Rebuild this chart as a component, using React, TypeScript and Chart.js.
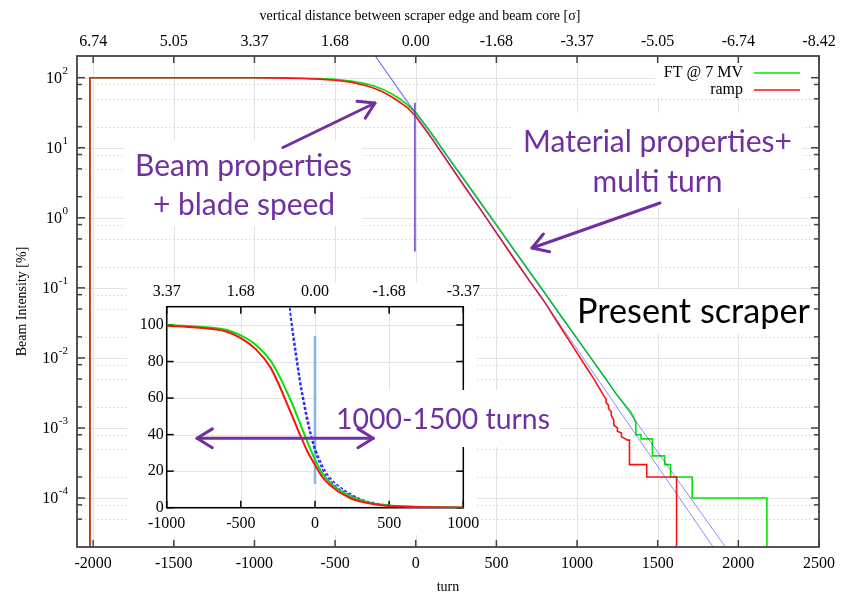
import React, { useEffect, useRef } from "react";
import { Chart, registerables } from "chart.js";

Chart.register(...registerables);

const SERIF = '"Liberation Serif", "Times New Roman", serif';
const SANS = 'Lato, "Open Sans", "Noto Sans", sans-serif';
const PURPLE = "#7030a0";
const GREEN = "#00e600";
const RED = "#ff1010";

// ---------------- main plot: axes ----------------
const mainTurnTicks = [-2000, -1500, -1000, -500, 0, 500, 1000, 1500, 2000, 2500];
const mainTurnLabels = ["-2000", "-1500", "-1000", "-500", "0", "500", "1000", "1500", "2000", "2500"];
const mainSigmaLabels = ["6.74", "5.05", "3.37", "1.68", "0.00", "-1.68", "-3.37", "-5.05", "-6.74", "-8.42"];
const decadeExponents = [2, 1, 0, -1, -2, -3, -4];
const minorExponents = [1, 0, -1, -2, -3, -4, -5];
const minorFactors = [2, 5, 8];

// ---------------- main plot: FT @ 7 MV (green) ----------------
const ftTurns = [
  -2020, -2020, -1500, -1000, -800, -700, -600, -500, -400, -300, -250, -200, -150, -100, -50, 0, 50, 100, 200,
  300, 400, 500, 600, 700, 800, 900, 1000, 1100, 1169, 1250, 1333, 1345, 1358, 1365, 1365, 1397, 1397, 1467,
  1467, 1543, 1543, 1580, 1580, 1714, 1714, 2177, 2177,
];
const ftIntensity = [
  1e-7, 100, 100, 100, 99.2, 98.4, 97, 94.5, 89.5, 81, 75, 67.5, 59, 50, 41, 32, 22.5, 15.8, 7.4,
  3.55, 1.68, 0.8, 0.375, 0.178, 0.085, 0.04, 0.019, 0.009, 0.0054, 0.0029, 0.0017, 0.0015, 0.0013, 0.0012, 0.0008,
  0.0008, 0.0007, 0.0007, 0.0004, 0.0004, 0.0003, 0.0003, 0.0002, 0.0002, 0.0001, 0.0001, 1e-7,
];

// ---------------- main plot: ramp (red) ----------------
const rampTurns = [
  -2020, -2020, -1500, -1000, -800, -700, -600, -500, -400, -300, -250, -200, -150, -100, -50, 0, 50, 100, 200,
  300, 400, 500, 600, 700, 757, 800, 900, 1000, 1050, 1100, 1169, 1180, 1180, 1195, 1195, 1212, 1212, 1228,
  1228, 1250, 1250, 1275, 1275, 1300, 1313, 1325, 1325, 1432, 1432, 1617, 1617,
];
const rampIntensity = [
  1e-7, 100, 100, 99.7, 98.7, 97.5, 95.5, 92, 86.5, 76, 69.5, 62, 53.5, 45, 37, 28, 19.5, 13.5, 6.2,
  2.85, 1.33, 0.61, 0.28, 0.13, 0.086, 0.062, 0.027, 0.0118, 0.0078, 0.0052, 0.0028, 0.0026, 0.0023, 0.0021,
  0.0019, 0.0017, 0.0015, 0.0013, 0.0011, 0.001, 0.0009, 0.00085, 0.00075, 0.0007, 0.00067, 0.00067, 0.0003,
  0.0003, 0.0002, 0.0002, 1e-7,
];

// ---------------- main plot: exponential fits (blue) and marker ----------------
const fitFtTurns = [-251, 1920];
const fitFtIntensity = [204, 2e-5];
const fitRampTurns = [-251, 1844];
const fitRampIntensity = [204, 2e-5];
const markerTurns = [-5, -5];
const markerIntensity = [44, 0.33];

// ---------------- inset ----------------
const insetTurnTicks = [-1000, -500, 0, 500, 1000];
const insetTurnLabels = ["-1000", "-500", "0", "500", "1000"];
const insetSigmaLabels = ["3.37", "1.68", "0.00", "-1.68", "-3.37"];
const insetIntensityTicks = [0, 20, 40, 60, 80, 100];
const insetTurns = [
  -1000, -800, -600, -500, -400, -300, -250, -200, -150, -100, -50, 0, 50, 100, 150, 200, 250, 300, 400, 500,
  600, 700, 800, 1000,
];
const insetFt = [
  99.9, 99.2, 97.4, 94.3, 89.2, 80.5, 73.5, 65.3, 56.2, 46, 35.8, 26.3, 18.7, 14, 10.5, 8, 5.7, 4.3, 2.2, 1.15,
  0.7, 0.38, 0.22, 0.05,
];
const insetRamp = [
  99.6, 98.6, 96.4, 92.8, 86.8, 76.8, 68.5, 59.2, 49.4, 39.7, 30.6, 23.5, 16.8, 12.5, 9.3, 6.9, 4.75, 3.5, 1.9,
  0.95, 0.6, 0.33, 0.2, 0.05,
];
const insetFitTurns = [-175, -150, -125, -100, -75, -50, -25, 0, 50, 100, 150, 200, 300, 400, 500, 600, 800, 1000];
const insetFitFt = [112, 98, 84, 70, 59, 49, 40, 33, 23, 16.5, 12.5, 9.5, 5, 2.6, 1.3, 0.6, 0.15, 0.04];
const insetFitRamp = [112, 94, 80, 67, 56, 46, 38, 31, 21, 15, 11, 8.5, 4.4, 2.2, 1.1, 0.5, 0.12, 0.03];
const insetMarkerTurns = [0, 0];
const insetMarkerIntensity = [94, 13];

const pts = (xs: number[], ys: number[]) => xs.map((x, i) => ({ x, y: ys[i] }));

// ---------------- drawing helpers ----------------
function hLine(ctx: CanvasRenderingContext2D, x1: number, x2: number, y: number) {
  ctx.beginPath();
  ctx.moveTo(x1, y);
  ctx.lineTo(x2, y);
  ctx.stroke();
}
function vLine(ctx: CanvasRenderingContext2D, x: number, y1: number, y2: number) {
  ctx.beginPath();
  ctx.moveTo(x, y1);
  ctx.lineTo(x, y2);
  ctx.stroke();
}
function arrowHead(ctx: CanvasRenderingContext2D, x1: number, y1: number, x2: number, y2: number, len: number) {
  const ang = Math.atan2(y2 - y1, x2 - x1);
  const a = 0.55;
  ctx.beginPath();
  ctx.moveTo(x2 - len * Math.cos(ang - a), y2 - len * Math.sin(ang - a));
  ctx.lineTo(x2, y2);
  ctx.lineTo(x2 - len * Math.cos(ang + a), y2 - len * Math.sin(ang + a));
  ctx.stroke();
}
function arrow(ctx: CanvasRenderingContext2D, x1: number, y1: number, x2: number, y2: number, both = false) {
  ctx.save();
  ctx.strokeStyle = PURPLE;
  ctx.lineWidth = 3;
  ctx.lineCap = "round";
  ctx.lineJoin = "round";
  ctx.beginPath();
  ctx.moveTo(x1, y1);
  ctx.lineTo(x2, y2);
  ctx.stroke();
  arrowHead(ctx, x1, y1, x2, y2, 18);
  if (both) arrowHead(ctx, x2, y2, x1, y1, 18);
  ctx.restore();
}
function fitSize(ctx: CanvasRenderingContext2D, text: string, width: number, family: string) {
  ctx.font = `100px ${family}`;
  return (100 * width) / ctx.measureText(text).width;
}
function textLines(
  ctx: CanvasRenderingContext2D,
  lines: [string, number, number][],
  size: number,
  family: string,
  color: string
) {
  ctx.save();
  ctx.font = `${size}px ${family}`;
  ctx.fillStyle = color;
  ctx.textAlign = "center";
  ctx.textBaseline = "middle";
  for (const [t, x, y] of lines) ctx.fillText(t, x, y);
  ctx.restore();
}

// ---------------- main plot decorations ----------------
const mainBoxes = [
  [125, 140, 237, 86],
  [512, 113, 290, 95],
  [568, 290, 250, 44],
  [655, 59, 160, 39],
];

const mainDecor = {
  id: "mainDecor",
  beforeDatasetsDraw(chart: any) {
    const { ctx, chartArea: a } = chart;
    const xs = chart.scales.x;
    const ys = chart.scales.y;
    ctx.save();
    ctx.lineWidth = 1;
    ctx.strokeStyle = "#d6d6d6";
    ctx.setLineDash([1.5, 2.5]);
    for (const e of minorExponents)
      for (const f of minorFactors) {
        const v = f * Math.pow(10, e);
        if (v <= ys.min || v >= ys.max) continue;
        hLine(ctx, a.left, a.right, Math.round(ys.getPixelForValue(v)) + 0.5);
      }
    ctx.setLineDash([]);
    ctx.strokeStyle = "#e2e2e2";
    for (const e of decadeExponents) hLine(ctx, a.left, a.right, Math.round(ys.getPixelForValue(Math.pow(10, e))) + 0.5);
    for (const v of mainTurnTicks) vLine(ctx, Math.round(xs.getPixelForValue(v)) + 0.5, a.top, a.bottom);
    ctx.fillStyle = "#fff";
    for (const [x, y, w, h] of mainBoxes) ctx.fillRect(x, y, w, h);
    ctx.restore();
  },
  afterDatasetsDraw(chart: any) {
    const { ctx, chartArea: a } = chart;
    const xs = chart.scales.x;
    const ys = chart.scales.y;
    ctx.save();
    ctx.strokeStyle = "#444";
    ctx.lineWidth = 1.5;
    for (const v of mainTurnTicks) {
      const px = xs.getPixelForValue(v);
      vLine(ctx, px, a.bottom, a.bottom - 7);
      vLine(ctx, px, a.top, a.top + 7);
    }
    for (const e of decadeExponents) {
      const py = ys.getPixelForValue(Math.pow(10, e));
      hLine(ctx, a.left, a.left + 8, py);
      hLine(ctx, a.right, a.right - 8, py);
    }
    for (const e of minorExponents)
      for (const f of minorFactors) {
        const v = f * Math.pow(10, e);
        if (v <= ys.min || v >= ys.max) continue;
        const py = ys.getPixelForValue(v);
        hLine(ctx, a.left, a.left + 5, py);
        hLine(ctx, a.right, a.right - 5, py);
      }
    ctx.lineWidth = 1.8;
    ctx.strokeRect(a.left, a.top, a.right - a.left, a.bottom - a.top);
    ctx.restore();
  },
  afterDraw(chart: any) {
    const { ctx, chartArea: a } = chart;
    const ys = chart.scales.y;
    ctx.save();
    ctx.fillStyle = "#000";
    ctx.textBaseline = "middle";
    // top axis title (centred on the page, as in the original)
    ctx.font = `14px ${SERIF}`;
    ctx.textAlign = "center";
    ctx.fillText("vertical distance between scraper edge and beam core [σ]", 420, 16);
    const right = a.left - 9;
    for (const e of decadeExponents) {
      const py = ys.getPixelForValue(Math.pow(10, e));
      const es = String(e);
      ctx.font = `11px ${SERIF}`;
      const ew = ctx.measureText(es).width;
      ctx.textAlign = "left";
      ctx.fillText(es, right - ew, py - 7);
      ctx.font = `16px ${SERIF}`;
      ctx.textAlign = "right";
      ctx.fillText("10", right - ew - 0.5, py + 1);
    }
    // legend
    ctx.font = `16px ${SERIF}`;
    ctx.textAlign = "right";
    ctx.fillText("FT @ 7 MV", a.right - 76, 73);
    ctx.fillText("ramp", a.right - 76, 90);
    ctx.lineWidth = 1.6;
    ctx.strokeStyle = GREEN;
    hLine(ctx, a.right - 65, a.right - 19, 73);
    ctx.strokeStyle = RED;
    hLine(ctx, a.right - 65, a.right - 19, 90);
    ctx.restore();

    // annotations
    const s1 = fitSize(ctx, "Beam properties", 217, SANS);
    textLines(ctx, [["Beam properties", 243.5, 166], ["+ blade speed", 244, 205]], s1, SANS, PURPLE);
    const s2 = fitSize(ctx, "Material properties+", 269, SANS);
    textLines(ctx, [["Material properties+", 657.5, 142], ["multi turn", 657.5, 182]], s2, SANS, PURPLE);
    const s3 = fitSize(ctx, "Present scraper", 233, SANS);
    textLines(ctx, [["Present scraper", 693.5, 312]], s3, SANS, "#000");
    arrow(ctx, 283, 147.5, 375, 103);
    arrow(ctx, 660, 203, 532, 248);
  },
};

// ---------------- inset decorations ----------------
const insetDecor = {
  id: "insetDecor",
  beforeDraw(chart: any) {
    const { ctx } = chart;
    ctx.save();
    ctx.fillStyle = "#fff";
    ctx.fillRect(0, 0, 350, chart.height);
    ctx.restore();
  },
  beforeDatasetsDraw(chart: any) {
    const { ctx, chartArea: a } = chart;
    const xs = chart.scales.x;
    const ys = chart.scales.y;
    ctx.save();
    ctx.lineWidth = 1;
    ctx.strokeStyle = "#e4e4e4";
    for (const v of insetIntensityTicks) hLine(ctx, a.left, a.right, Math.round(ys.getPixelForValue(v)) + 0.5);
    for (const v of insetTurnTicks) vLine(ctx, Math.round(xs.getPixelForValue(v)) + 0.5, a.top, a.bottom);
    ctx.strokeStyle = "#000";
    ctx.lineWidth = 1.5;
    for (const v of insetTurnTicks) {
      const px = xs.getPixelForValue(v);
      vLine(ctx, px, a.bottom, a.bottom - 7);
      vLine(ctx, px, a.top, a.top + 7);
    }
    for (const v of insetIntensityTicks) {
      const py = ys.getPixelForValue(v);
      hLine(ctx, a.left, a.left + 7, py);
      hLine(ctx, a.right, a.right - 7, py);
    }
    ctx.strokeRect(a.left, a.top, a.right - a.left, a.bottom - a.top);
    ctx.fillStyle = "#fff";
    ctx.fillRect(190, 107, 243, 57);
    ctx.restore();
  },
  afterDraw(chart: any) {
    const { ctx } = chart;
    const s = fitSize(ctx, "1000-1500 turns", 214, SANS);
    textLines(ctx, [["1000-1500 turns", 316, 137]], s, SANS, PURPLE);
    arrow(ctx, 70, 155.3, 246.3, 155.3, true);
  },
};

const tickFont = { family: SERIF, size: 16 };
const titleFont = { family: SERIF, size: 14 };

function MainChart() {
  const ref = useRef<HTMLCanvasElement>(null);
  useEffect(() => {
    const chart = new Chart(ref.current as HTMLCanvasElement, {
      type: "line",
      data: {
        datasets: [
          { data: pts(markerTurns, markerIntensity), borderColor: "#6a3cc0", borderWidth: 1.5, pointRadius: 0 },
          { data: pts(fitRampTurns, fitRampIntensity), borderColor: "rgba(50,50,255,0.55)", borderWidth: 1, pointRadius: 0 },
          { data: pts(fitFtTurns, fitFtIntensity), borderColor: "rgba(50,50,255,0.55)", borderWidth: 1, pointRadius: 0 },
          { label: "ramp", data: pts(rampTurns, rampIntensity), borderColor: RED, borderWidth: 1.6, pointRadius: 0 },
          { label: "FT @ 7 MV", data: pts(ftTurns, ftIntensity), borderColor: GREEN, borderWidth: 1.6, pointRadius: 0 },
        ],
      },
      options: {
        animation: false,
        responsive: false,
        devicePixelRatio: 1,
        events: [],
        layout: { padding: { left: 0, right: 20, top: 0, bottom: 0 } },
        elements: { line: { tension: 0 }, point: { radius: 0 } },
        plugins: { legend: { display: false }, tooltip: { enabled: false } },
        scales: {
          x: {
            type: "linear",
            position: "bottom",
            min: -2100,
            max: 2500,
            afterBuildTicks: (s: any) => {
              s.ticks = mainTurnTicks.map((v) => ({ value: v }));
            },
            afterFit: (s: any) => {
              s.height = 49;
            },
            grid: { display: false, drawTicks: false },
            border: { display: false },
            ticks: {
              padding: 7,
              autoSkip: false,
              maxRotation: 0,
              font: tickFont,
              color: "#000",
              callback: (_v: any, i: number) => mainTurnLabels[i],
            },
            title: { display: true, text: "turn", font: titleFont, color: "#000", padding: { top: 0, bottom: 0 } },
          },
          x2: {
            type: "linear",
            position: "top",
            min: -2100,
            max: 2500,
            afterBuildTicks: (s: any) => {
              s.ticks = mainTurnTicks.map((v) => ({ value: v }));
            },
            afterFit: (s: any) => {
              s.height = 56;
            },
            grid: { display: false, drawTicks: false },
            border: { display: false },
            ticks: {
              padding: 5,
              autoSkip: false,
              maxRotation: 0,
              font: tickFont,
              color: "#000",
              callback: (_v: any, i: number) => mainSigmaLabels[i],
            },
          },
          y: {
            type: "logarithmic",
            position: "left",
            min: 2e-5,
            max: 204,
            afterBuildTicks: (s: any) => {
              s.ticks = decadeExponents.map((e) => ({ value: Math.pow(10, e) }));
            },
            afterFit: (s: any) => {
              s.width = 77;
            },
            grid: { display: false, drawTicks: false },
            border: { display: false },
            ticks: { display: false },
            title: {
              display: true,
              text: "Beam Intensity [%]",
              font: titleFont,
              color: "#000",
              padding: { top: 14, bottom: 0 },
            },
          },
        },
      } as any,
      plugins: [mainDecor],
    });
    return () => chart.destroy();
  }, []);
  return (
    <canvas
      ref={ref}
      width={842}
      height={596}
      style={{ position: "absolute", left: 0, top: 0, width: 842, height: 596 }}
    />
  );
}

function InsetChart() {
  const ref = useRef<HTMLCanvasElement>(null);
  useEffect(() => {
    const chart = new Chart(ref.current as HTMLCanvasElement, {
      type: "line",
      data: {
        datasets: [
          { label: "ramp", data: pts(insetTurns, insetRamp), borderColor: RED, borderWidth: 2, pointRadius: 0 },
          { label: "FT @ 7 MV", data: pts(insetTurns, insetFt), borderColor: GREEN, borderWidth: 2, pointRadius: 0 },
          {
            data: pts(insetFitTurns, insetFitRamp),
            borderColor: "#2a2aff",
            borderWidth: 1.5,
            borderDash: [3, 2],
            pointRadius: 0,
          },
          {
            data: pts(insetFitTurns, insetFitFt),
            borderColor: "#2a2aff",
            borderWidth: 1.5,
            borderDash: [3, 2],
            pointRadius: 0,
          },
          {
            data: pts(insetMarkerTurns, insetMarkerIntensity),
            borderColor: "#8ab4e8",
            borderWidth: 2.6,
            pointRadius: 0,
            cubicInterpolationMode: "default",
          },
        ],
      },
      options: {
        animation: false,
        responsive: false,
        devicePixelRatio: 1,
        events: [],
        layout: { padding: { left: 0, right: 96.7, top: 0, bottom: 0 } },
        elements: { line: { cubicInterpolationMode: "monotone" }, point: { radius: 0 } },
        plugins: { legend: { display: false }, tooltip: { enabled: false } },
        scales: {
          x: {
            type: "linear",
            position: "bottom",
            min: -1000,
            max: 1000,
            afterBuildTicks: (s: any) => {
              s.ticks = insetTurnTicks.map((v) => ({ value: v }));
            },
            afterFit: (s: any) => {
              s.height = 27.3;
            },
            grid: { display: false, drawTicks: false },
            border: { display: false },
            ticks: {
              padding: 6,
              autoSkip: false,
              maxRotation: 0,
              font: tickFont,
              color: "#000",
              callback: (_v: any, i: number) => insetTurnLabels[i],
            },
          },
          x2: {
            type: "linear",
            position: "top",
            min: -1000,
            max: 1000,
            afterBuildTicks: (s: any) => {
              s.ticks = insetTurnTicks.map((v) => ({ value: v }));
            },
            afterFit: (s: any) => {
              s.height = 23.7;
            },
            grid: { display: false, drawTicks: false },
            border: { display: false },
            ticks: {
              padding: 5.4,
              autoSkip: false,
              maxRotation: 0,
              font: tickFont,
              color: "#000",
              callback: (_v: any, i: number) => insetSigmaLabels[i],
            },
          },
          y: {
            type: "linear",
            position: "left",
            min: 0,
            max: 110,
            afterBuildTicks: (s: any) => {
              s.ticks = insetIntensityTicks.map((v) => ({ value: v }));
            },
            afterFit: (s: any) => {
              s.width = 39.7;
            },
            grid: { display: false, drawTicks: false },
            border: { display: false },
            ticks: {
              padding: 3,
              autoSkip: false,
              font: tickFont,
              color: "#000",
              callback: (v: any) => String(v),
            },
          },
        },
      } as any,
      plugins: [insetDecor],
    });
    return () => chart.destroy();
  }, []);
  return (
    <canvas
      ref={ref}
      width={433}
      height={252}
      style={{ position: "absolute", left: 127, top: 283, width: 433, height: 252 }}
    />
  );
}

export default function App() {
  useEffect(() => {
    document.body.style.margin = "0";
  }, []);
  return (
    <div
      style={{
        position: "fixed",
        left: 0,
        top: 0,
        width: 842,
        height: 596,
        background: "#fff",
        overflow: "hidden",
      }}
    >
      <MainChart />
      <InsetChart />
    </div>
  );
}
